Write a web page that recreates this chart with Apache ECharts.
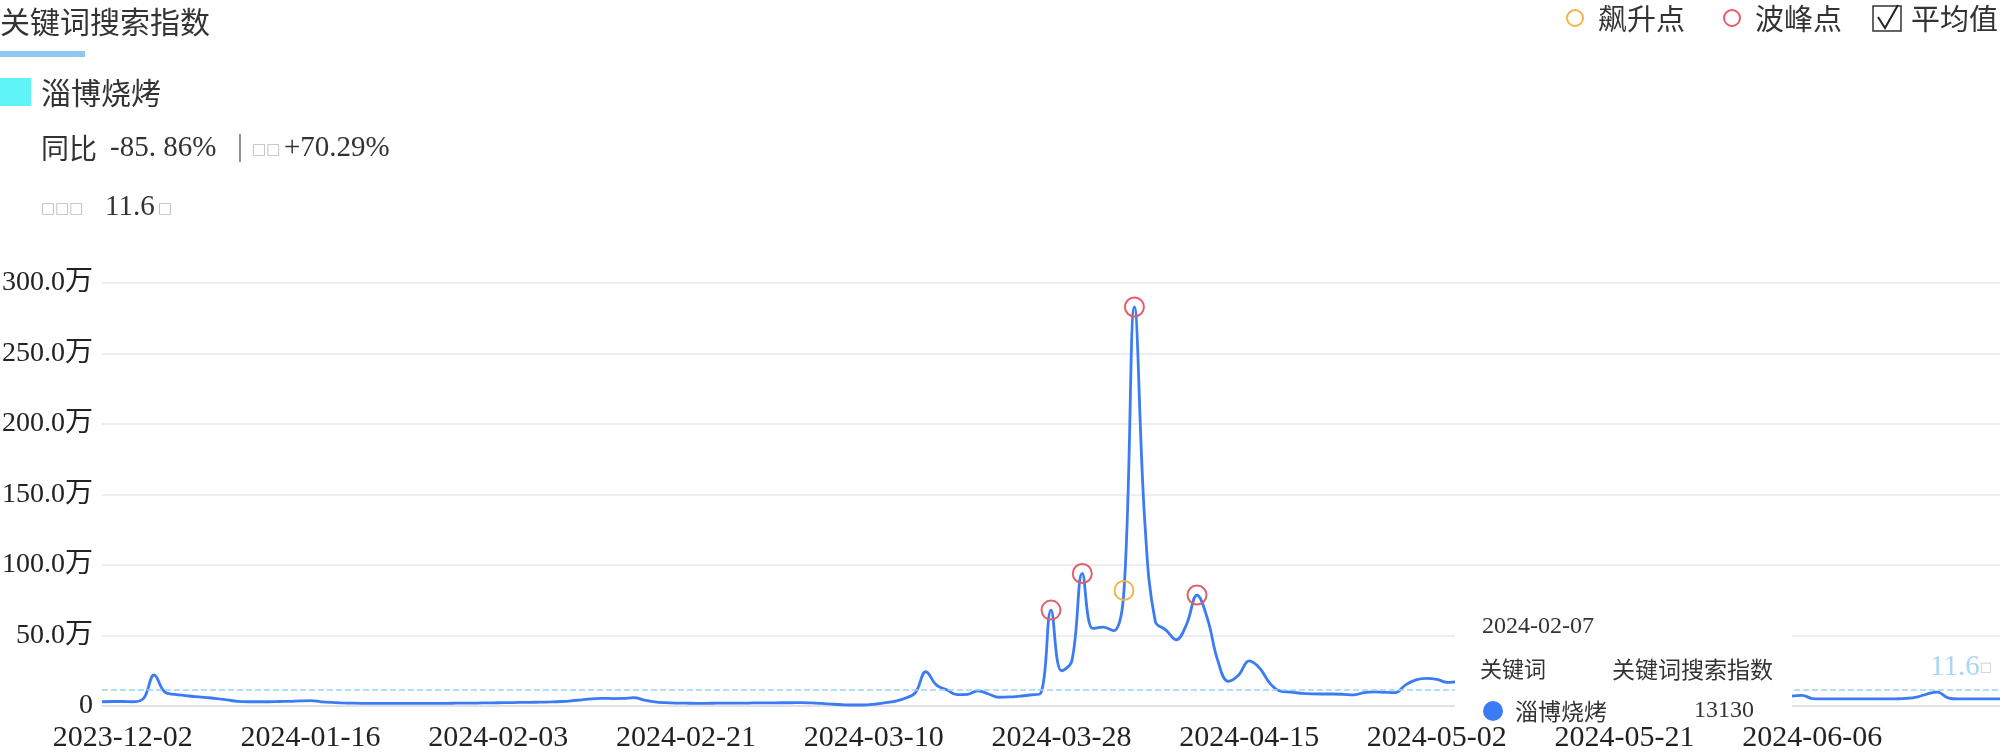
<!DOCTYPE html>
<html><head><meta charset="utf-8">
<script src="https://cdn.jsdelivr.net/npm/echarts@6/dist/echarts.min.js"></script>
<style>html,body{margin:0;padding:0;background:#fff}#c{width:2000px;height:753px}</style>
</head><body><div id="c"></div>
<script>
// ---- data ----
const tickLabels = ['2023-12-02','2024-01-16','2024-02-03','2024-02-21','2024-03-10','2024-03-28','2024-04-15','2024-05-02','2024-05-21','2024-06-06'];
const tickIndices = [2,20,38,56,74,92,110,128,146,164];
// 关键词搜索指数 (万)
const searchIndex = [
  3.0, 3.2, 3.2, 3.0, 5.5, 22, 10, 8.2, 7.4, 6.6,
  6.0, 5.3, 4.3, 3.3, 3.0, 3.0, 3.0, 3.2, 3.3, 3.6,
  3.8, 3.0, 2.5, 2.2, 2.0, 1.9, 1.9, 1.9, 1.9, 1.9,
  1.9, 1.9, 1.9, 1.9, 2.0, 2.0, 2.1, 2.2, 2.3, 2.4,
  2.5, 2.6, 2.7, 2.9, 3.2, 3.7, 4.4, 5.0, 5.4, 5.3,
  5.4, 5.9, 4.2, 3.0, 2.4, 2.1, 2.0, 1.9, 1.9, 2.0,
  2.0, 2.1, 2.1, 2.2, 2.2, 2.3, 2.3, 2.4, 2.2, 1.8,
  1.3, 0.9, 0.7, 0.7, 1.2, 2.2, 3.3, 5.5, 9.5, 24.3,
  15, 11.5, 8.0, 8.3, 10.8, 8.5, 6.2, 6.4, 7.0, 7.8,
  9.0, 68, 25, 32, 94, 55, 56, 53.4, 82, 283,
  130, 60, 54, 47, 58, 78.7, 62, 32, 17.5, 22,
  32, 27, 16, 10.5, 9.8, 9.0, 8.6, 8.5, 8.5, 8.3,
  7.9, 9.5, 10.0, 9.7, 9.5, 15, 18.5, 19.6, 18.9, 16.8,
  17.2, 16, 14, 12, 10, 9, 8.5, 8, 7.6, 7.4,
  7.2, 7.0, 7.0, 6.9, 6.8, 6.8, 6.9, 7.0, 7.0, 7.1,
  7.2, 7.2, 7.1, 7.0, 7.0, 7.0, 7.1, 7.2, 7.2, 7.1,
  7.0, 7.1, 7.1, 7.6, 5.3, 5.0, 5.0, 5.0, 5.0, 5.0,
  5.0, 5.0, 5.1, 5.4, 6.3, 8.5, 9.8, 5.8, 5.0, 5.0,
  5.0, 5.0, 5.0
];
const peakIndices = [91, 94, 99, 105];
const surgeIndices = [98];
const averageValue = 11.6;
const yoyText = '-85. 86%';
const momText = '+70.29%';
const tooltipDate = '2024-02-07';
const tooltipValue = '13130';
const keyword = '淄博烧烤';

const categories = searchIndex.map((v, i) => {
  const k = tickIndices.indexOf(i);
  return k >= 0 ? tickLabels[k] : 'd' + i;
});

const SERIF = '"Liberation Serif","Noto Sans CJK SC"';
const CJK = '"Noto Sans CJK SC"';
const BLUE = '#3b7cf4';
const RED = '#e35d6a';
const ORANGE = '#f3b548';

const chart = echarts.init(document.getElementById('c'), null, {renderer: 'canvas'});

function txt(text, x, y, size, family, fill, z) {
  return {type: 'text', z: z || 10, style: {text, x, y, fontSize: size, fontFamily: family, fill: fill || '#333', verticalAlign: 'middle'}};
}

const graphics = [
  // title block
  txt('关键词搜索指数', 0, 22, 30, CJK, '#333'),
  {type: 'rect', shape: {x: 0, y: 51, width: 85, height: 6}, style: {fill: '#8ec8f2'}},
  {type: 'rect', shape: {x: 0, y: 78, width: 31, height: 28}, style: {fill: '#5ef3f6'}},
  txt(keyword, 41, 93, 30, CJK, '#333'),
  txt('同比', 41, 148, 28, CJK, '#333'),
  txt(yoyText, 110, 148, 29, SERIF, '#333'),
  {type: 'line', shape: {x1: 240, y1: 134, x2: 240, y2: 162}, style: {stroke: '#444', lineWidth: 1.2}},
  txt('□□', 252, 150, 15, '"DejaVu Sans"', '#bbb'),
  txt(momText, 284, 148, 29, SERIF, '#333'),
  txt('□□□', 41, 209, 15, '"DejaVu Sans"', '#bbb'),
  txt(averageValue.toFixed(1), 105, 207, 29, SERIF, '#333'),
  txt('□', 158, 209, 15, '"DejaVu Sans"', '#bbb'),
  // legend (top right)
  {type: 'circle', shape: {cx: 1575, cy: 18, r: 8}, style: {fill: 'none', stroke: ORANGE, lineWidth: 2}},
  txt('飙升点', 1598, 19, 29, CJK, '#333'),
  {type: 'circle', shape: {cx: 1732, cy: 18, r: 8}, style: {fill: 'none', stroke: RED, lineWidth: 2}},
  txt('波峰点', 1755, 19, 29, CJK, '#333'),
  {type: 'rect', shape: {x: 1873, y: 6, width: 28, height: 25}, style: {fill: 'none', stroke: '#333', lineWidth: 1.5}},
  {type: 'polyline', shape: {points: [[1878, 17], [1885, 28], [1898, 5]]}, style: {fill: 'none', stroke: '#222', lineWidth: 2}},
  txt('平均值', 1911, 19, 29, CJK, '#333'),
  // tooltip box
  {type: 'rect', z: 100, shape: {x: 1455, y: 603, width: 337, height: 121}, style: {fill: '#fff'}},
  txt(tooltipDate, 1482, 627, 24, SERIF, '#333', 101),
  txt('关键词', 1480, 669, 22, CJK, '#333', 101),
  txt('关键词搜索指数', 1612, 669, 23, CJK, '#333', 101),
  {type: 'circle', z: 101, shape: {cx: 1493, cy: 711, r: 10}, style: {fill: BLUE}},
  txt(keyword, 1515, 711, 23, CJK, '#333', 101),
  txt(tooltipValue, 1694, 711, 24, SERIF, '#333', 101)
];

function mark(idx, color) {
  return {coord: [categories[idx], searchIndex[idx]], itemStyle: {color: 'rgba(0,0,0,0)', borderColor: color, borderWidth: 2}};
}

chart.setOption({
  animation: false,
  backgroundColor: '#fff',
  grid: {left: 102, right: 0, top: 283, bottom: 47, containLabel: false, outerBoundsMode: 'none'},
  xAxis: {
    type: 'category', data: categories, boundaryGap: false,
    axisTick: {show: false},
    axisLine: {lineStyle: {color: '#e2e2e2', width: 2}},
    axisLabel: {interval: (i) => tickIndices.includes(i), color: '#222', fontFamily: SERIF, fontSize: 30, margin: 17},
    splitLine: {show: false}
  },
  yAxis: {
    type: 'value', min: 0, max: 300, interval: 50,
    axisLine: {show: false}, axisTick: {show: false},
    axisLabel: {formatter: (v) => v === 0 ? '0' : v.toFixed(1) + '万', color: '#222', fontFamily: SERIF, fontSize: 28, margin: 9},
    splitLine: {lineStyle: {color: '#e8e8e8', width: 1.5}}
  },
  series: [{
    type: 'line', name: keyword, data: searchIndex, smooth: 0.4, showSymbol: false,
    lineStyle: {color: BLUE, width: 2.8}, itemStyle: {color: BLUE},
    markLine: {
      silent: true, symbol: 'none',
      data: [{yAxis: averageValue}],
      lineStyle: {color: '#9fd2f5', type: 'dashed', width: 1.5},
      label: {position: 'insideEndTop', distance: 8, formatter: averageValue.toFixed(1) + '{t|□}',
        color: '#a9d6f3', fontSize: 29, fontFamily: SERIF,
        rich: {t: {fontSize: 13, fontFamily: '"DejaVu Sans"', color: '#c9c9c9'}}}
    },
    markPoint: {
      symbol: 'circle', symbolSize: 19, silent: true, label: {show: false},
      data: peakIndices.map(i => mark(i, RED)).concat(surgeIndices.map(i => mark(i, ORANGE)))
    }
  }],
  graphic: graphics
});
</script></body></html>
